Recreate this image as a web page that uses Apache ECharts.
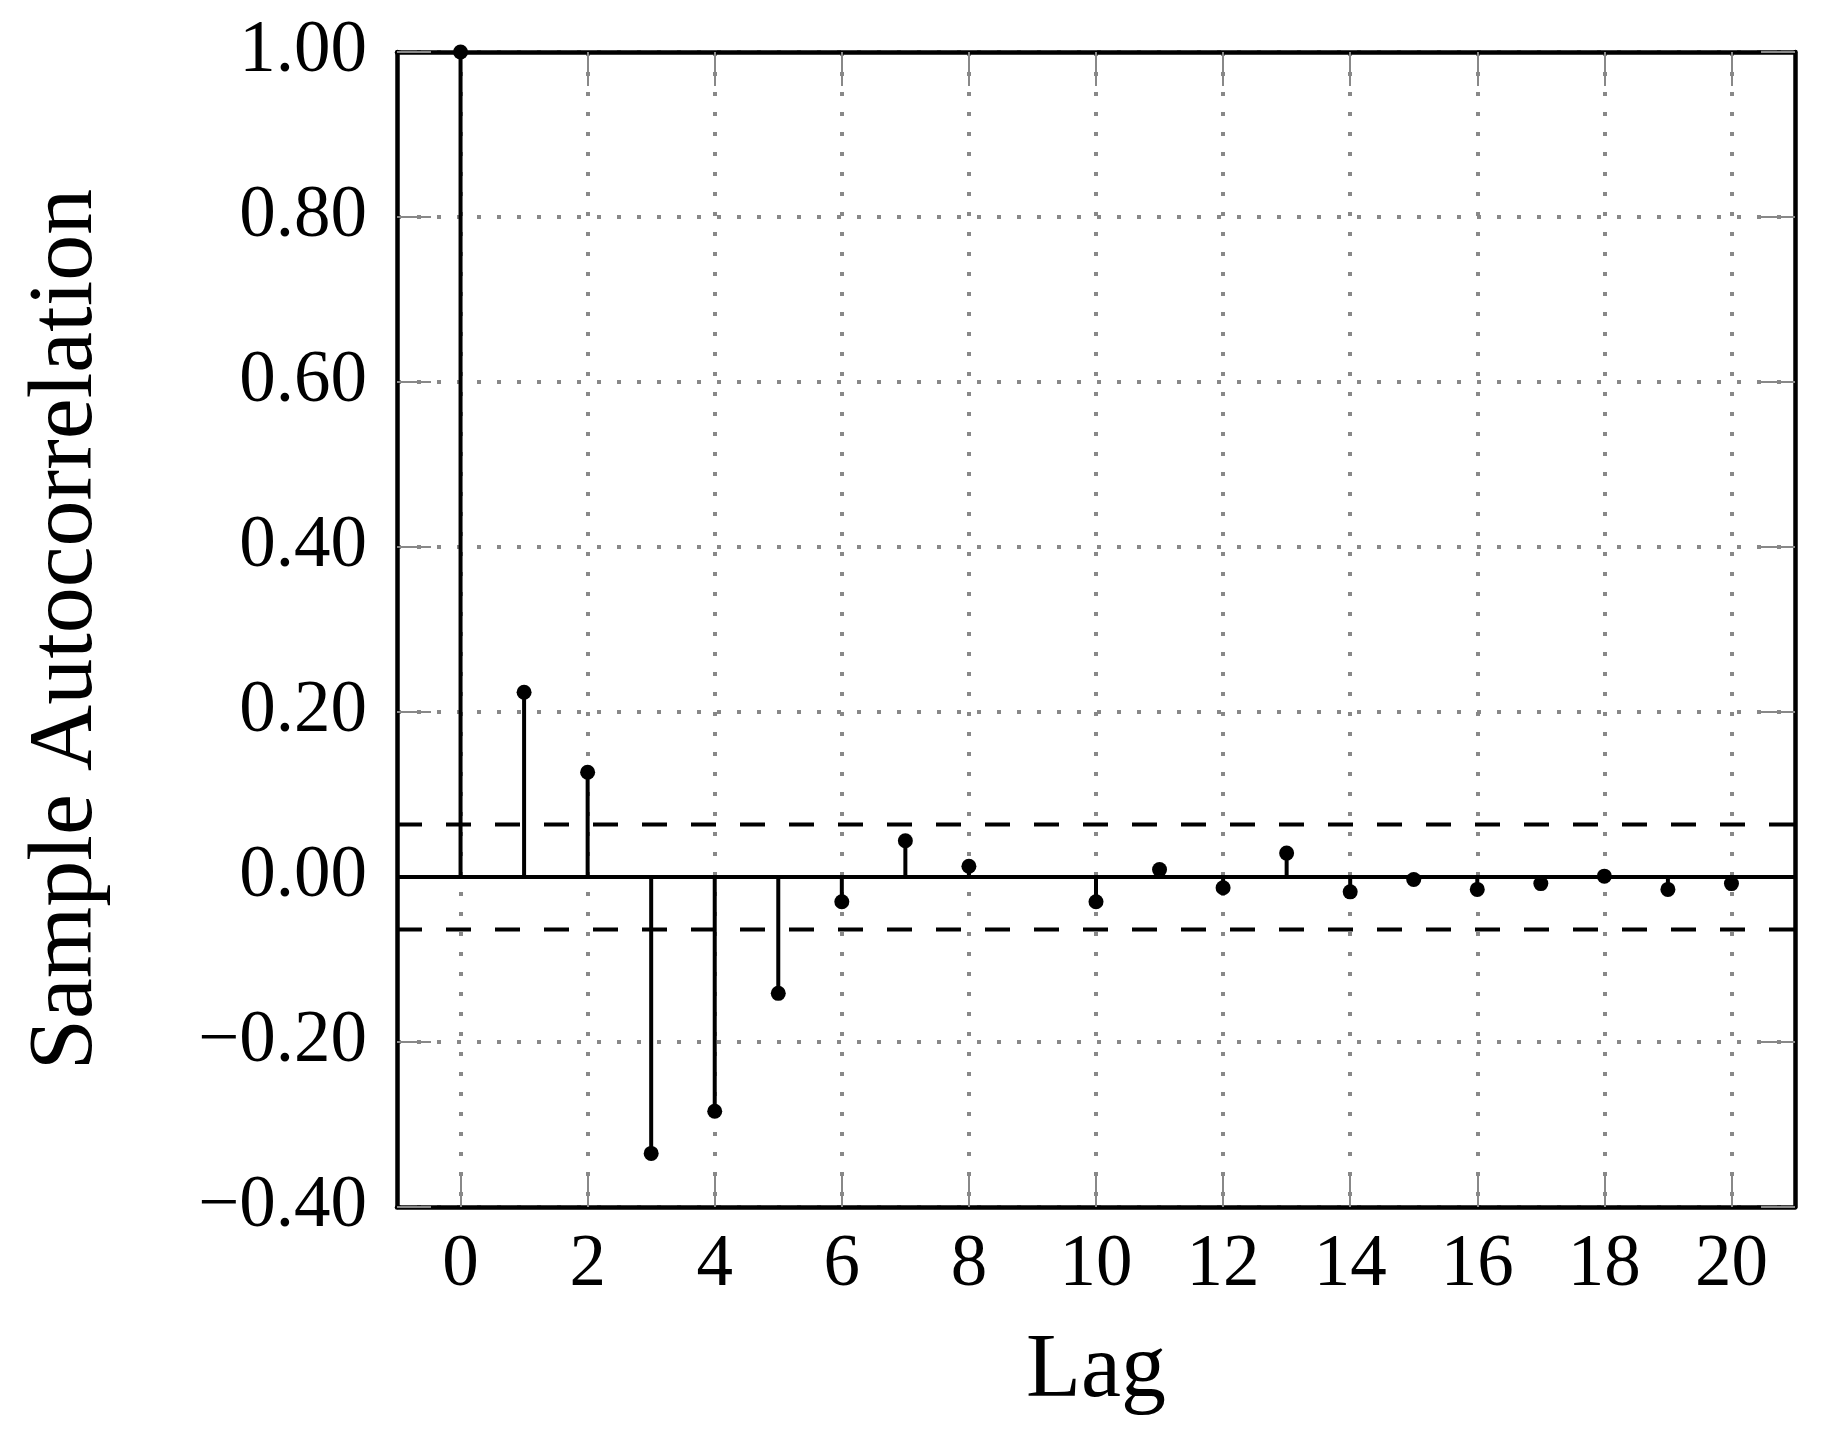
<!DOCTYPE html>
<html>
<head>
<meta charset="utf-8">
<script src="https://cdn.jsdelivr.net/npm/echarts@6/dist/echarts.min.js"></script>
<style>
html,body{margin:0;padding:0;background:#fff;}
#chart{width:1824px;height:1451px;}
</style>
</head>
<body>
<div id="chart"></div>
<script>
// ---- data ----
const lags = [0,1,2,3,4,5,6,7,8,9,10,11,12,13,14,15,16,17,18,19,20];
const acf  = [1.0,0.224,0.127,-0.335,-0.284,-0.141,-0.030,0.044,0.013,null,-0.030,0.009,-0.013,0.029,-0.018,-0.003,-0.015,-0.008,0.001,-0.015,-0.008];
const confBound = 0.0635;
const xTicks = [0,2,4,6,8,10,12,14,16,18,20];
const xRange = [-1, 21];
const yRange = [-0.4, 1.0];
const yStep = 0.2;
const xTitle = 'Lag';
const yTitle = 'Sample Autocorrelation';

// ---- build ----
const pts = [];
lags.forEach((l, i) => { if (acf[i] !== null) pts.push([l, acf[i]]); });

const FONT = 'Liberation Serif';
const gridLine = { show: true, lineStyle: { color: '#888888', width: 4, type: [4, 16] } };
const tickStyle = { show: true, inside: true, length: 34, lineStyle: { color: '#888888', width: 2 } };
const frame = { show: true, onZero: false, lineStyle: { color: '#000', width: 4.5 } };

const chart = echarts.init(document.getElementById('chart'), null, { renderer: 'canvas' });
chart.setOption({
  backgroundColor: '#fff',
  animation: false,
  grid: { left: 397, top: 52, right: 29, bottom: 244, containLabel: false },
  xAxis: [{
    type: 'value', min: xRange[0], max: xRange[1], position: 'bottom',
    axisLine: frame,
    axisTick: Object.assign({ customValues: xTicks }, tickStyle),
    axisLabel: { customValues: xTicks, fontFamily: FONT, fontSize: 73, color: '#000', margin: 22 },
    splitLine: gridLine,
    name: xTitle, nameLocation: 'middle', nameGap: 120,
    nameTextStyle: { fontFamily: FONT, fontSize: 90, color: '#000' }
  }, {
    type: 'value', min: xRange[0], max: xRange[1], position: 'top',
    axisLine: frame,
    axisTick: Object.assign({ customValues: xTicks }, tickStyle),
    axisLabel: { show: false, customValues: xTicks },
    splitLine: { show: false }
  }],
  yAxis: [{
    type: 'value', min: yRange[0], max: yRange[1], interval: yStep, position: 'left',
    axisLine: frame,
    axisTick: tickStyle,
    axisLabel: {
      fontFamily: FONT, fontSize: 73, color: '#000', margin: 30,
      formatter: v => (v < 0 ? '\u2212' : '') + Math.abs(v).toFixed(2)
    },
    splitLine: gridLine,
    name: yTitle, nameLocation: 'middle', nameGap: 284, nameRotate: 90,
    nameTextStyle: { fontFamily: FONT, fontSize: 92, color: '#000' }
  }, {
    type: 'value', min: yRange[0], max: yRange[1], interval: yStep, position: 'right',
    axisLine: frame,
    axisTick: tickStyle,
    axisLabel: { show: false },
    splitLine: { show: false }
  }],
  series: [
    {
      type: 'line', data: [[xRange[0], confBound], [xRange[1], confBound]],
      symbol: 'none', lineStyle: { color: '#000', width: 4, type: [25, 24] }, z: 3, silent: true
    },
    {
      type: 'line', data: [[xRange[0], -confBound], [xRange[1], -confBound]],
      symbol: 'none', lineStyle: { color: '#000', width: 4, type: [25, 24] }, z: 3, silent: true
    },
    {
      type: 'line', data: [[xRange[0], 0], [xRange[1], 0]],
      symbol: 'none', lineStyle: { color: '#000', width: 4 }, z: 4, silent: true
    },
    {
      type: 'bar', data: pts, barWidth: 4, itemStyle: { color: '#000', opacity: 1 }, z: 5, silent: true
    },
    {
      type: 'scatter', data: pts, symbol: 'circle', symbolSize: 15, clip: false,
      itemStyle: { color: '#000', opacity: 1 }, z: 6, silent: true
    }
  ]
});
</script>
</body>
</html>
